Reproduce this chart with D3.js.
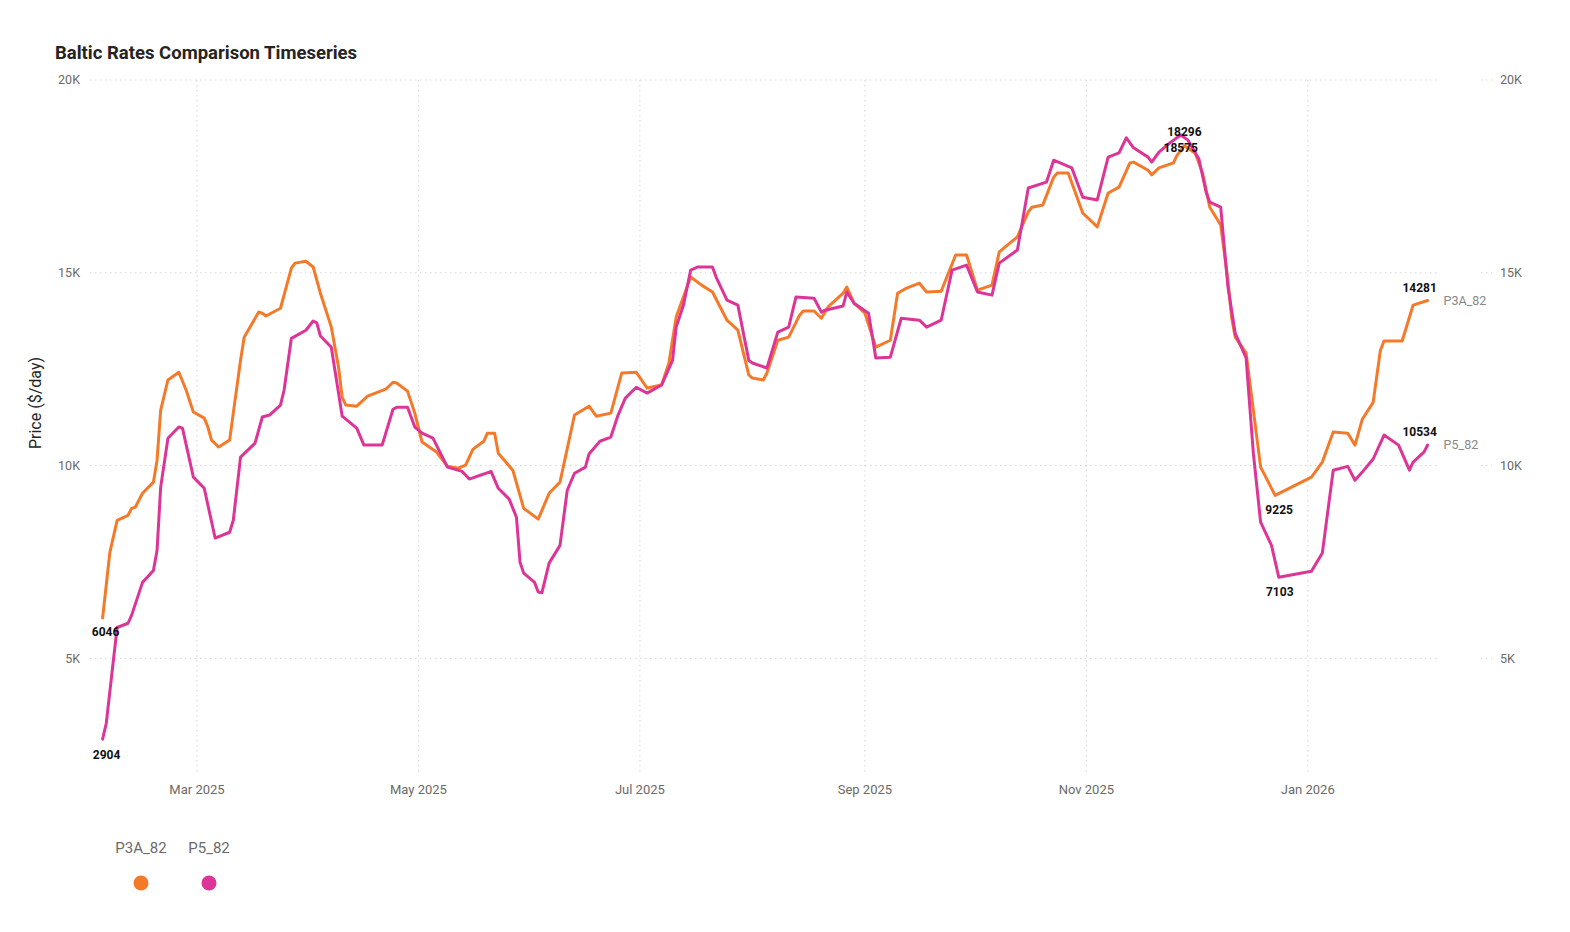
<!DOCTYPE html>
<html>
<head>
<meta charset="utf-8">
<script src="https://cdn.jsdelivr.net/npm/d3@7"></script>
<style>
  html, body { margin: 0; padding: 0; background: #fff; }
  svg { display: block; font-family: Roboto, "DejaVu Sans", sans-serif; }
</style>
</head>
<body>
<svg id="chart" width="1570" height="932"></svg>
<script>
// ---------------- DATA ----------------
const seriesNames = ["P3A_82", "P5_82"];
const seriesColors = ["#F47A2A", "#DC3597"];

const p3aDates = [
  "2025-02-03","2025-02-05","2025-02-07","2025-02-10","2025-02-11","2025-02-12","2025-02-14","2025-02-17","2025-02-18","2025-02-19",
  "2025-02-21","2025-02-24","2025-02-26","2025-02-28","2025-03-03","2025-03-04","2025-03-05","2025-03-07","2025-03-10","2025-03-11",
  "2025-03-13","2025-03-14","2025-03-18","2025-03-19","2025-03-20","2025-03-24","2025-03-27","2025-03-28","2025-03-31","2025-04-02",
  "2025-04-04","2025-04-07","2025-04-09","2025-04-10","2025-04-11","2025-04-14","2025-04-17","2025-04-22","2025-04-24","2025-04-25",
  "2025-04-28","2025-04-30","2025-05-02","2025-05-04","2025-05-06","2025-05-09","2025-05-12","2025-05-14","2025-05-16","2025-05-19",
  "2025-05-20","2025-05-22","2025-05-23","2025-05-27","2025-05-30","2025-06-03","2025-06-06","2025-06-09","2025-06-13","2025-06-17",
  "2025-06-19","2025-06-23","2025-06-26","2025-06-30","2025-07-03","2025-07-07","2025-07-09","2025-07-11","2025-07-15","2025-07-18",
  "2025-07-21","2025-07-25","2025-07-28","2025-07-31","2025-08-01","2025-08-04","2025-08-05","2025-08-08","2025-08-11","2025-08-14",
  "2025-08-15","2025-08-18","2025-08-20","2025-08-22","2025-08-26","2025-08-27","2025-08-29","2025-09-01","2025-09-04","2025-09-08",
  "2025-09-10","2025-09-12","2025-09-16","2025-09-18","2025-09-22","2025-09-26","2025-09-29","2025-10-02","2025-10-06","2025-10-08",
  "2025-10-13","2025-10-16","2025-10-17","2025-10-20","2025-10-23","2025-10-24","2025-10-27","2025-10-31","2025-11-04","2025-11-07",
  "2025-11-10","2025-11-13","2025-11-14","2025-11-18","2025-11-19","2025-11-21","2025-11-25","2025-11-26","2025-11-28","2025-12-01",
  "2025-12-03","2025-12-05","2025-12-08","2025-12-10","2025-12-11","2025-12-12","2025-12-15","2025-12-19","2025-12-23","2026-01-02",
  "2026-01-05","2026-01-08","2026-01-12","2026-01-14","2026-01-16","2026-01-19","2026-01-21","2026-01-22","2026-01-27","2026-01-30",
  "2026-02-03"
];
const p3aValues = [
  6046,7750,8580,8710,8890,8920,9280,9570,10140,11440,
  12220,12420,11960,11390,11230,11000,10660,10480,10660,11360,
  12730,13330,13980,13950,13880,14080,15120,15250,15300,15150,
  14470,13590,12550,11770,11570,11540,11800,11980,12160,12140,
  11930,11360,10610,10480,10350,9980,9930,10010,10420,10630,
  10840,10840,10320,9880,8890,8610,9280,9570,11310,11540,
  11280,11360,12400,12420,12010,12090,12660,13850,14890,14680,
  14500,13770,13510,12350,12270,12220,12400,13250,13330,13900,
  14010,14010,13820,14130,14470,14630,14210,13950,13070,13250,
  14470,14580,14730,14500,14520,15460,15460,14550,14680,15540,
  15930,16580,16700,16760,17480,17590,17590,16550,16190,17070,
  17220,17850,17870,17660,17540,17720,17850,18050,18296,18100,
  17590,16700,16240,14800,13850,13330,12920,9960,9225,9700,
  10090,10870,10840,10530,11200,11640,12990,13230,13230,14160,
  14281
];

const p5Dates = [
  "2025-02-03","2025-02-04","2025-02-07","2025-02-10","2025-02-11","2025-02-14","2025-02-17","2025-02-18","2025-02-19","2025-02-21",
  "2025-02-24","2025-02-25","2025-02-28","2025-03-03","2025-03-06","2025-03-10","2025-03-11","2025-03-13","2025-03-17","2025-03-19",
  "2025-03-21","2025-03-24","2025-03-25","2025-03-27","2025-03-31","2025-04-02","2025-04-03","2025-04-04","2025-04-07","2025-04-10",
  "2025-04-14","2025-04-16","2025-04-21","2025-04-24","2025-04-25","2025-04-28","2025-04-30","2025-05-02","2025-05-05","2025-05-09",
  "2025-05-13","2025-05-15","2025-05-19","2025-05-21","2025-05-23","2025-05-26","2025-05-28","2025-05-29","2025-05-30","2025-06-02",
  "2025-06-03","2025-06-04","2025-06-06","2025-06-09","2025-06-11","2025-06-13","2025-06-16","2025-06-17","2025-06-20","2025-06-23",
  "2025-06-25","2025-06-27","2025-06-30","2025-07-03","2025-07-07","2025-07-10","2025-07-11","2025-07-13","2025-07-15","2025-07-17",
  "2025-07-21","2025-07-22","2025-07-25","2025-07-28","2025-07-31","2025-08-01","2025-08-05","2025-08-08","2025-08-11","2025-08-13",
  "2025-08-18","2025-08-20","2025-08-21","2025-08-26","2025-08-27","2025-08-29","2025-09-02","2025-09-04","2025-09-08","2025-09-11",
  "2025-09-16","2025-09-18","2025-09-22","2025-09-25","2025-09-29","2025-10-02","2025-10-06","2025-10-08","2025-10-13","2025-10-16",
  "2025-10-21","2025-10-23","2025-10-28","2025-10-31","2025-11-04","2025-11-07","2025-11-10","2025-11-12","2025-11-14","2025-11-18",
  "2025-11-19","2025-11-21","2025-11-24","2025-11-27","2025-11-29","2025-12-02","2025-12-04","2025-12-05","2025-12-08","2025-12-10",
  "2025-12-12","2025-12-15","2025-12-17","2025-12-19","2025-12-22","2025-12-24","2026-01-02","2026-01-05","2026-01-08","2026-01-12",
  "2026-01-14","2026-01-16","2026-01-19","2026-01-22","2026-01-26","2026-01-29","2026-01-30","2026-02-02","2026-02-03"
];
const p5Values = [
  2904,3310,5800,5910,6120,6970,7280,7800,9440,10710,
  11000,10970,9700,9410,8120,8270,8580,10220,10580,11260,
  11310,11570,11960,13300,13510,13750,13700,13360,13070,11280,
  10970,10530,10530,11460,11510,11510,11000,10840,10710,9960,
  9850,9650,9780,9850,9410,9130,8660,7490,7210,6970,
  6720,6700,7470,7930,9360,9800,9960,10300,10630,10740,
  11310,11750,12030,11880,12090,12730,13590,14160,15070,15150,
  15150,14890,14290,14160,12730,12660,12530,13460,13590,14370,
  14340,13980,14030,14140,14500,14210,13950,12790,12810,13820,
  13770,13590,13770,15070,15200,14500,14420,15250,15590,17200,
  17350,17920,17720,16960,16890,18000,18110,18500,18240,18000,
  17870,18130,18370,18575,18440,17950,17090,16830,16700,14630,
  13430,12790,10320,8530,7930,7103,7260,7730,9880,9980,
  9620,9830,10170,10790,10530,9880,10090,10350,10534
];

const yTickValues = [5000, 10000, 15000, 20000];
const yTickLabels = ["5K", "10K", "15K", "20K"];
const xDomain = ["2025-02-03", "2026-02-03"];
const yDomain = [2000, 20000];

const titleText = "Baltic Rates Comparison Timeseries";
const yAxisTitle = "Price ($/day)";

// annotated points: first, last, max, and the December low (by date)
const labelSpecs = [
  { s: 0, which: "first", dx: 3,  dy: 14 },
  { s: 1, which: "first", dx: 4,  dy: 16 },
  { s: 0, which: "2025-12-23", dx: 4,  dy: 14 },
  { s: 1, which: "2025-12-24", dx: 1, dy: 15 },
  { s: 0, which: "max",   dx: 0,  dy: -14 },
  { s: 1, which: "max",   dx: 0,  dy: 13 },
  { s: 0, which: "last",  dx: -8, dy: -13 },
  { s: 1, which: "last",  dx: -8, dy: -13 }
];

// ---------------- CHART ----------------
const parse = d3.timeParse("%Y-%m-%d");
const series = [
  p3aDates.map((d, i) => ({ key: d, date: parse(d), value: p3aValues[i] })),
  p5Dates.map((d, i) => ({ key: d, date: parse(d), value: p5Values[i] }))
];

const svg = d3.select("#chart");
const plot = { left: 102.6, right: 1427.6, top: 80, bottom: 774 };

const x = d3.scaleTime().domain(xDomain.map(parse)).range([plot.left, plot.right]);
const y = d3.scaleLinear().domain(yDomain).range([plot.bottom, plot.top]);

const gridColor = "#d6d6d6";
const axisTextColor = "#6b6a69";

// title
svg.append("text")
  .attr("x", 55).attr("y", 59)
  .attr("font-size", 18.5).attr("font-weight", 700)
  .attr("fill", "#252423")
  .text(titleText);

// vertical grid + x axis labels
const xTicks = x.ticks(d3.timeMonth.every(2));
const xFmt = d3.timeFormat("%b %Y");
const gx = svg.append("g");
gx.selectAll("line").data(xTicks).join("line")
  .attr("x1", d => x(d)).attr("x2", d => x(d))
  .attr("y1", plot.top).attr("y2", plot.bottom)
  .attr("stroke", gridColor).attr("stroke-width", 1)
  .attr("stroke-dasharray", "1.5,3.5");
gx.selectAll("text").data(xTicks).join("text")
  .attr("x", d => x(d)).attr("y", 794)
  .attr("text-anchor", "middle")
  .attr("font-size", 13).attr("fill", axisTextColor)
  .text(d => xFmt(d));

// horizontal grid + y axis labels (both sides)
const gy = svg.append("g");
gy.selectAll("line.a").data(yTickValues).join("line").attr("class", "a")
  .attr("x1", 90).attr("x2", 1439)
  .attr("y1", d => y(d)).attr("y2", d => y(d))
  .attr("stroke", gridColor).attr("stroke-width", 1)
  .attr("stroke-dasharray", "1.5,3.5");
gy.selectAll("line.b").data(yTickValues).join("line").attr("class", "b")
  .attr("x1", 1481).attr("x2", 1492)
  .attr("y1", d => y(d)).attr("y2", d => y(d))
  .attr("stroke", gridColor).attr("stroke-width", 1)
  .attr("stroke-dasharray", "1.5,3.5");
gy.selectAll("text.l").data(yTickValues).join("text").attr("class", "l")
  .attr("x", 80).attr("y", d => y(d))
  .attr("dy", "0.35em").attr("text-anchor", "end")
  .attr("font-size", 12.5).attr("fill", axisTextColor)
  .text((d, i) => yTickLabels[i]);
gy.selectAll("text.r").data(yTickValues).join("text").attr("class", "r")
  .attr("x", 1500).attr("y", d => y(d))
  .attr("dy", "0.35em").attr("text-anchor", "start")
  .attr("font-size", 12.5).attr("fill", axisTextColor)
  .text((d, i) => yTickLabels[i]);

// y axis title
svg.append("text")
  .attr("transform", "translate(41, 403) rotate(-90)")
  .attr("text-anchor", "middle")
  .attr("font-size", 16).attr("fill", "#252423")
  .text(yAxisTitle);

// lines
const line = d3.line().x(d => x(d.date)).y(d => y(d.value));
svg.append("g").selectAll("path").data(series).join("path")
  .attr("d", d => line(d))
  .attr("fill", "none")
  .attr("stroke", (d, i) => seriesColors[i])
  .attr("stroke-width", 3)
  .attr("stroke-linejoin", "round")
  .attr("stroke-linecap", "round");

// data labels
function pick(arr, which) {
  if (which === "first") return arr[0];
  if (which === "last") return arr[arr.length - 1];
  if (which === "max") return arr.reduce((a, b) => b.value > a.value ? b : a);
  return arr.find(p => p.key === which);
}
svg.append("g").selectAll("text").data(labelSpecs).join("text")
  .each(function (spec) {
    const p = pick(series[spec.s], spec.which);
    d3.select(this)
      .attr("x", x(p.date) + spec.dx)
      .attr("y", y(p.value) + spec.dy)
      .attr("dy", "0.35em")
      .attr("text-anchor", "middle")
      .attr("font-size", 12).attr("font-weight", 700)
      .attr("fill", "#111")
      .text(p.value);
  });

// series end labels
svg.append("g").selectAll("text").data(series).join("text")
  .attr("x", d => x(d[d.length - 1].date) + 16)
  .attr("y", d => y(d[d.length - 1].value))
  .attr("dy", "0.35em")
  .attr("font-size", 12.5).attr("fill", "#8a8886")
  .text((d, i) => seriesNames[i]);

// legend
const legX = [141, 209];
const lg = svg.append("g");
lg.selectAll("text").data(seriesNames).join("text")
  .attr("x", (d, i) => legX[i]).attr("y", 853)
  .attr("text-anchor", "middle")
  .attr("font-size", 15).attr("fill", axisTextColor)
  .text(d => d);
lg.selectAll("circle").data(seriesNames).join("circle")
  .attr("cx", (d, i) => legX[i]).attr("cy", 883).attr("r", 7.5)
  .attr("fill", (d, i) => seriesColors[i]);
</script>
</body>
</html>
